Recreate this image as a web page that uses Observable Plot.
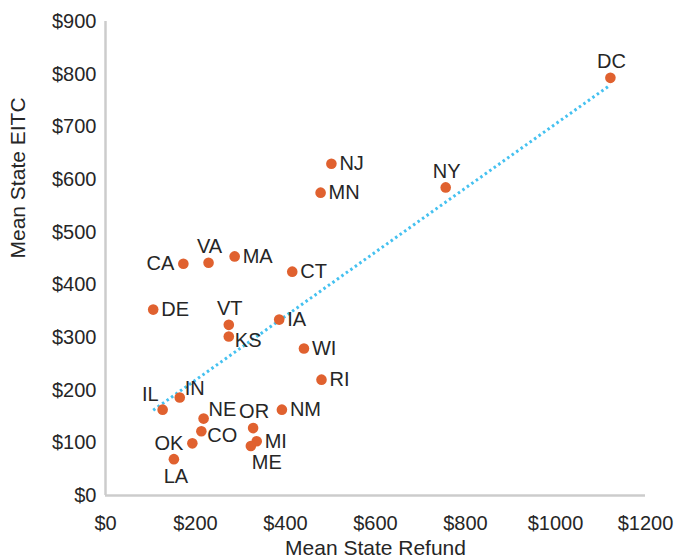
<!DOCTYPE html>
<html>
<head>
<meta charset="utf-8">
<script src="https://cdn.jsdelivr.net/npm/d3@7"></script>
<script src="https://cdn.jsdelivr.net/npm/@observablehq/plot@0.6"></script>
<style>
  html, body { margin: 0; padding: 0; background: #fff; }
  #chart { width: 680px; height: 559px; }
</style>
</head>
<body>
<div id="chart"></div>
<script>
// ---- Data ----
const states = ["CA","VA","MA","CT","NJ","MN","DC","NY","DE","VT","KS","IA","WI","RI","IL","IN","NE","CO","OK","LA","OR","MI","ME","NM"];
const meanStateRefund = [173,229,287,415,502,478,1122,756,106,274,274,386,441,480,127,165,218,213,193,152,328,336,323,392];
const meanStateEITC   = [440,442,454,425,630,575,793,585,353,324,302,334,279,220,163,186,146,122,99,69,128,103,94,163];
const xTicks = [0,200,400,600,800,1000,1200];
const yTicks = [0,100,200,300,400,500,600,700,800,900];

// ---- Label placement (layout, not data) ----
const labelPlacement = {
  CA:"left", OK:"left",
  DC:"above", NY:"above", VA:"above", VT:"above", OR:"above",
  LA:"below",
  IL:"upperLeft",
  IN:"upperRight", NE:"upperRight",
  ME:"lowerRight",
  CO:"rightLow", KS:"rightLow"
};
const placementStyle = {
  right:      {textAnchor:"start",  dx: 8,  dy: 0},
  rightLow:   {textAnchor:"start",  dx: 6,  dy: 4},
  left:       {textAnchor:"end",    dx: -9, dy: 0},
  above:      {textAnchor:"middle", dx: 1,  dy: -16},
  below:      {textAnchor:"middle", dx: 2,  dy: 17},
  upperLeft:  {textAnchor:"end",    dx: -4, dy: -15},
  upperRight: {textAnchor:"start",  dx: 5,  dy: -9},
  lowerRight: {textAnchor:"start",  dx: 1,  dy: 17}
};

const data = states.map((s, i) => ({state: s, refund: meanStateRefund[i], eitc: meanStateEITC[i]}));
const placeOf = d => labelPlacement[d.state] || "right";

// Least-squares trend line (like a spreadsheet linear trendline), spanning the data's x extent
const mx = d3.mean(meanStateRefund), my = d3.mean(meanStateEITC);
const sxy = d3.sum(meanStateRefund, (x, i) => (x - mx) * (meanStateEITC[i] - my));
const sxx = d3.sum(meanStateRefund, x => (x - mx) ** 2);
const slope = sxy / sxx, intercept = my - slope * mx;
const trend = d3.extent(meanStateRefund).map(x => ({refund: x, eitc: intercept + slope * x}));

const dotColor = "#E0612F";
const trendColor = "#45C1F0";
const axisColor = "#CCCCCC";
const textColor = "#262626";

const labelMarks = Object.entries(placementStyle).map(([key, st]) =>
  Plot.text(data.filter(d => placeOf(d) === key), {
    x: "refund", y: "eitc", text: "state",
    textAnchor: st.textAnchor, dx: st.dx, dy: st.dy,
    fill: textColor, fontSize: 20
  })
);

const chart = Plot.plot({
  width: 680,
  height: 559,
  marginLeft: 105,
  marginRight: 35,
  marginTop: 21,
  marginBottom: 64,
  style: {fontFamily: "'Liberation Sans', Arial, sans-serif", fontSize: "20px", color: textColor, background: "#fff"},
  x: {domain: [0, 1200], ticks: xTicks, tickFormat: d => "$" + d, tickSize: 0, tickPadding: 20, label: null},
  y: {domain: [0, 900], ticks: yTicks, tickFormat: d => "$" + d, tickSize: 0, tickPadding: 9, label: null},
  marks: [
    Plot.ruleX([0], {stroke: axisColor, strokeWidth: 2.5}),
    Plot.ruleY([0], {stroke: axisColor, strokeWidth: 2.5}),
    Plot.line(trend, {x: "refund", y: "eitc", stroke: trendColor, strokeWidth: 3, strokeDasharray: "2.5,3", strokeLinecap: "butt"}),
    Plot.dot(data, {x: "refund", y: "eitc", r: 5.3, fill: dotColor, stroke: "none"}),
    ...labelMarks,
    Plot.text(["Mean State Refund"], {frameAnchor: "bottom", dy: 59, fill: textColor, fontSize: 21}),
    Plot.text(["Mean State EITC"], {frameAnchor: "left", dx: -87, rotate: -90, fill: textColor, fontSize: 21})
  ]
});
document.getElementById("chart").appendChild(chart);
</script>
</body>
</html>
